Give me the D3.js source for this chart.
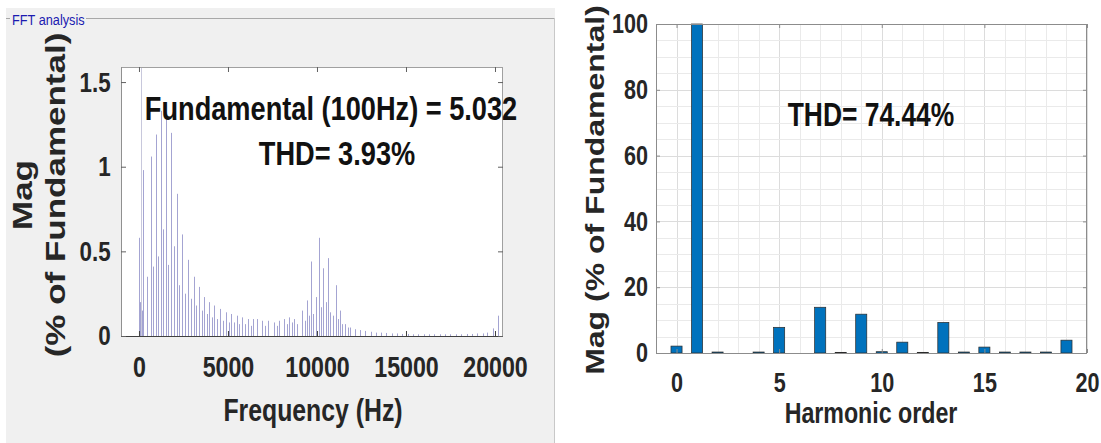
<!DOCTYPE html>
<html lang="en">
<head>
<meta charset="UTF-8">
<title>FFT analysis</title>
<script src="https://d3js.org/d3.v7.min.js"></script>
<style>
  body { margin: 0; background: #fff; }
  svg { display: block; }
  text { font-family: "Liberation Sans", Arial, sans-serif; font-weight: bold; fill: #262626; }
</style>
</head>
<body>
<svg id="chart" width="1101" height="443"></svg>
<script>
// ---- left panel: FFT spectrum (Hz, % of fundamental) ----
var fftFreq = [0, 30, 60, 100, 150, 243, 468, 655, 768, 936, 1049, 1236, 1367, 1498, 1648, 1798, 1966,
    2116, 2250, 2397, 2560, 2734, 2900, 3071, 3230, 3390, 3530, 3670, 3810, 3951, 4090, 4232, 4390,
    4551, 4720, 4888, 5030, 5169, 5330, 5487, 5630, 5768, 5950, 6142, 6280, 6423, 6648, 6929, 7100,
    7266, 7584, 7750, 7884, 8165, 8300, 8427, 8580, 8727, 8900, 9140, 9300, 9420, 9540, 9663, 9800,
    9944, 10112, 10230, 10356, 10480, 10600, 10740, 10880, 11067, 11180, 11292, 11430, 11573, 11720,
    11860, 12140, 12430, 12720, 13010, 13300, 13600, 13900, 14200, 14500, 14800, 15100, 15400, 15700,
    16000, 16300, 16600, 16900, 17200, 17500, 17800, 18100, 18400, 18700, 19000, 19300, 19570, 19870, 20180];
var fftMag = [0.58, 0.20, 0.12, 100, 0.15, 0.98, 0.35, 1.06, 0.41, 1.19, 0.47, 1.33, 0.63, 1.29, 0.42, 1.20, 0.53,
    0.84, 0.30, 0.60, 0.25, 0.45, 0.22, 0.35, 0.18, 0.29, 0.15, 0.23, 0.13, 0.20, 0.11, 0.18, 0.10,
    0.16, 0.09, 0.14, 0.08, 0.13, 0.08, 0.12, 0.07, 0.11, 0.07, 0.10, 0.06, 0.10, 0.10, 0.09, 0.06,
    0.09, 0.08, 0.06, 0.09, 0.10, 0.07, 0.11, 0.08, 0.10, 0.07, 0.15, 0.09, 0.21, 0.12, 0.44, 0.13,
    0.23, 0.58, 0.17, 0.40, 0.20, 0.46, 0.14, 0.12, 0.30, 0.10, 0.15, 0.07, 0.07, 0.05,
    0.05, 0.04, 0.035, 0.03, 0.025, 0.02, 0.02, 0.018, 0.015, 0.015, 0.012, 0.012, 0.01, 0.01,
    0.01, 0.01, 0.01, 0.01, 0.01, 0.01, 0.01, 0.01, 0.012, 0.012, 0.015, 0.015, 0.02, 0.045, 0.12];
var fftTicksX = [0, 5000, 10000, 15000, 20000];
var fftTicksY = [0, 0.5, 1, 1.5];

// ---- right panel: harmonic bars ----
var harmonicOrder = [0, 1, 2, 3, 4, 5, 6, 7, 8, 9, 10, 11, 12, 13, 14, 15, 16, 17, 18, 19];
var harmonicMag = [2.1, 100, 0.3, 0, 0.3, 7.8, 0, 13.9, 0.2, 11.8, 0.4, 3.3, 0.2, 9.3, 0.3, 1.8, 0.3, 0.3, 0.3, 3.9];
var harmTicksX = [0, 5, 10, 15, 20];
var harmTicksY = [0, 20, 40, 60, 80, 100];

var svg = d3.select("#chart");
var SQ = 0.8; // text in the picture is squeezed horizontally

// text helper: squeezed, optionally rotated
function label(x, y, str, size, anchor, rot, color) {
    var t = svg.append("text")
        .attr("transform", "translate(" + x + "," + y + ") scale(" + SQ + ",1)" + (rot ? " rotate(" + rot + ")" : ""))
        .attr("text-anchor", anchor || "middle")
        .style("font-size", size + "px")
        .text(str);
    if (color) t.style("fill", color);
    return t;
}

function styleAxis(g, size, tickColor) {
    g.select(".domain").remove();
    g.selectAll(".tick line").attr("stroke", tickColor);
    g.selectAll(".tick text")
        .attr("font-size", null).attr("font-family", null)
        .style("font-size", size + "px")
        .style("fill", "#262626");
}

// gray panel of the FFT window
svg.append("rect").attr("x", 6).attr("y", 8).attr("width", 549).attr("height", 440).attr("fill", "#f0f0f0");
svg.append("line").attr("x1", 6).attr("x2", 555).attr("y1", 18.5).attr("y2", 18.5).attr("stroke", "#a8a8a8");
svg.append("line").attr("x1", 554.5).attr("x2", 554.5).attr("y1", 18).attr("y2", 443).attr("stroke", "#c8c8c8");
svg.append("rect").attr("x", 10).attr("y", 10).attr("width", 76).attr("height", 18).attr("fill", "#f0f0f0");
svg.append("text").attr("x", 12).attr("y", 25)
    .attr("transform", "translate(12,0) scale(0.85,1) translate(-12,0)")
    .style("font-size", "15px").style("font-weight", "normal").style("fill", "#1b1bb0")
    .text("FFT analysis");

// ===== left plot =====
var L = {left: 121, right: 503, top: 67, bottom: 336};
var xF = d3.scaleLinear().domain([-1010, 20450]).range([L.left, L.right]);
var yF = d3.scaleLinear().domain([0, 1.589]).range([L.bottom, L.top]);

svg.append("rect").attr("x", L.left).attr("y", L.top)
    .attr("width", L.right - L.left).attr("height", L.bottom - L.top).attr("fill", "#fff");

svg.append("clipPath").attr("id", "clipL").append("rect")
    .attr("x", L.left).attr("y", L.top).attr("width", L.right - L.left).attr("height", L.bottom - L.top);

var spec = fftFreq.map(function(f, i) { return {f: f, m: fftMag[i]}; });
svg.append("g").attr("clip-path", "url(#clipL)")
    .selectAll("line.spec")
    .data(spec)
    .enter().append("line")
    .attr("class", "spec")
    .attr("x1", function(d) { return Math.round(xF(d.f)) + 0.5; })
    .attr("x2", function(d) { return Math.round(xF(d.f)) + 0.5; })
    .attr("y1", yF(0))
    .attr("y2", function(d) { return yF(d.m); })
    .attr("stroke", function(d) { return d.m > 50 ? "#c8c8dc" : "#a4a4d2"; })
    .attr("stroke-width", 1);

// box
svg.append("line").attr("x1", L.left).attr("x2", L.right).attr("y1", L.top + 0.5).attr("y2", L.top + 0.5).attr("stroke", "#a0a0a0");
svg.append("line").attr("x1", L.left + 0.5).attr("x2", L.left + 0.5).attr("y1", L.top).attr("y2", L.bottom).attr("stroke", "#909090");
svg.append("line").attr("x1", L.right - 0.5).attr("x2", L.right - 0.5).attr("y1", L.top).attr("y2", L.bottom).attr("stroke", "#a0a0a0");
svg.append("line").attr("x1", L.left).attr("x2", L.right).attr("y1", L.bottom + 0.5).attr("y2", L.bottom + 0.5).attr("stroke", "#404040");

var gxF = svg.append("g").attr("transform", "translate(0," + L.bottom + ")")
    .call(d3.axisBottom(xF).tickValues(fftTicksX).tickSizeInner(-5).tickSizeOuter(0).tickPadding(20).tickFormat(d3.format("d")));
styleAxis(gxF, 29, "#404040");
gxF.selectAll(".tick text").attr("transform", "scale(" + SQ + ",1)");

var gxF2 = svg.append("g").attr("transform", "translate(0," + L.top + ")")
    .call(d3.axisTop(xF).tickValues(fftTicksX).tickSizeInner(-5).tickSizeOuter(0).tickFormat(""));
styleAxis(gxF2, 10, "#606060");

var gyF = svg.append("g").attr("transform", "translate(" + L.left + ",0)")
    .call(d3.axisLeft(yF).tickValues(fftTicksY).tickSizeInner(-5).tickSizeOuter(0).tickPadding(13).tickFormat(d3.format("~g")));
styleAxis(gyF, 28, "#606060");
gyF.selectAll(".tick text").attr("transform", "scale(" + SQ + ",1)");

var gyF2 = svg.append("g").attr("transform", "translate(" + L.right + ",0)")
    .call(d3.axisRight(yF).tickValues(fftTicksY).tickSizeInner(-5).tickSizeOuter(0).tickFormat(""));
styleAxis(gyF2, 10, "#606060");

label(331, 120, "Fundamental (100Hz) = 5.032", 34, "middle", 0, "#111");
label(337, 165, "THD= 3.93%", 34, "middle", 0, "#111");
label(313, 421, "Frequency (Hz)", 31, "middle");
label(32, 195, "Mag", 35, "middle", -90);
label(65, 195, "(% of Fundamental)", 35, "middle", -90);

// ===== right plot =====
var R = {left: 656, right: 1087, top: 24, bottom: 353};
var xH = d3.scaleLinear().domain([-1, 20]).range([R.left, R.right]);
var yH = d3.scaleLinear().domain([0, 100]).range([R.bottom, R.top]);

// minor and major grid
var gridG = svg.append("g");
gridG.selectAll("line.gx").data(xH.ticks(21)).enter().append("line")
    .attr("x1", function(d) { return Math.round(xH(d)) + 0.5; })
    .attr("x2", function(d) { return Math.round(xH(d)) + 0.5; })
    .attr("y1", R.top).attr("y2", R.bottom)
    .attr("stroke", function(d) { return d % 5 === 0 ? "#dcdcdc" : "#eaeaea"; });
gridG.selectAll("line.gy").data(yH.ticks(20)).enter().append("line")
    .attr("y1", function(d) { return Math.round(yH(d)) + 0.5; })
    .attr("y2", function(d) { return Math.round(yH(d)) + 0.5; })
    .attr("x1", R.left).attr("x2", R.right)
    .attr("stroke", function(d) { return d % 20 === 0 ? "#dcdcdc" : "#eaeaea"; });

var barW = xH(0.54) - xH(0);
svg.selectAll("rect.bar")
    .data(harmonicOrder)
    .enter().append("rect")
    .attr("class", "bar")
    .attr("x", function(d) { return xH(d) - barW / 2; })
    .attr("y", function(d, i) { return yH(harmonicMag[i]); })
    .attr("width", barW)
    .attr("height", function(d, i) { return yH(0) - yH(harmonicMag[i]); })
    .attr("fill", "#0072bd")
    .attr("stroke", "#2a2a2a")
    .attr("stroke-width", 0.7);

svg.append("rect").attr("x", R.left + 0.5).attr("y", R.top + 0.5)
    .attr("width", R.right - R.left - 1).attr("height", R.bottom - R.top)
    .attr("fill", "none").attr("stroke", "#8c8c8c");

var gxH = svg.append("g").attr("transform", "translate(0," + R.bottom + ")")
    .call(d3.axisBottom(xH).tickValues(harmTicksX).tickSizeInner(-4).tickSizeOuter(0).tickPadding(20));
styleAxis(gxH, 27, "#8c8c8c");
gxH.selectAll(".tick text").attr("transform", "scale(" + SQ + ",1)");

var gxH2 = svg.append("g").attr("transform", "translate(0," + R.top + ")")
    .call(d3.axisTop(xH).tickValues(harmTicksX).tickSizeInner(-4).tickSizeOuter(0).tickFormat(""));
styleAxis(gxH2, 10, "#8c8c8c");

var gyH = svg.append("g").attr("transform", "translate(" + R.left + ",0)")
    .call(d3.axisLeft(yH).tickValues(harmTicksY).tickSizeInner(-4).tickSizeOuter(0).tickPadding(10));
styleAxis(gyH, 27, "#8c8c8c");
gyH.selectAll(".tick text").attr("transform", "scale(" + SQ + ",1)");

var gyH2 = svg.append("g").attr("transform", "translate(" + R.right + ",0)")
    .call(d3.axisRight(yH).tickValues(harmTicksY).tickSizeInner(-4).tickSizeOuter(0).tickFormat(""));
styleAxis(gyH2, 10, "#8c8c8c");

label(871, 126, "THD= 74.44%", 33, "middle", 0, "#111");
label(871, 423, "Harmonic order", 29, "middle");
label(604, 190, "Mag (% of Fundamental)", 32, "middle", -90);
</script>
</body>
</html>
